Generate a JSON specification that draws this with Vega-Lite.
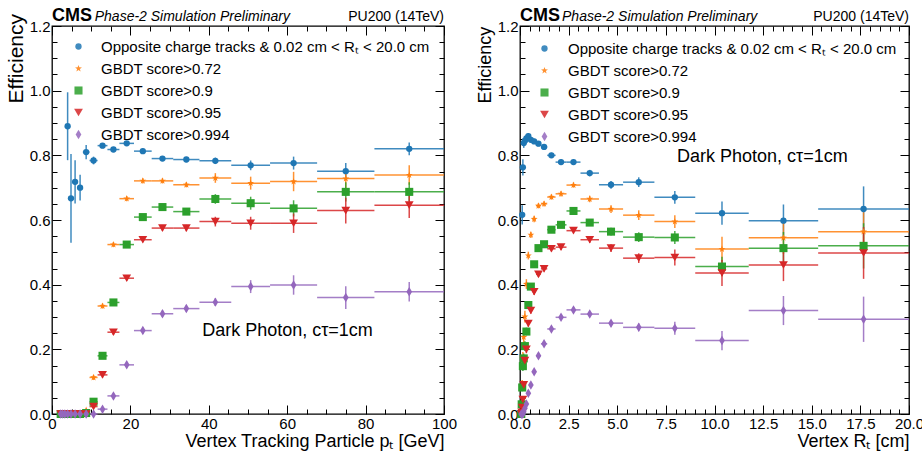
{
"$schema": "https://vega.github.io/schema/vega-lite/v6.json",
"background": "white",
"padding": {"left": 4, "top": 5, "right": 0, "bottom": 0},
"spacing": 17,
"datasets": {
"pt": [
{"s":"all","x":3.986,"xe":0.389,"y":0.89,"ye":0.105},
{"s":"all","x":4.846,"xe":0.472,"y":0.667,"ye":0.137},
{"s":"all","x":5.893,"xe":0.575,"y":0.718,"ye":0.067},
{"s":"all","x":7.167,"xe":0.699,"y":0.70,"ye":0.04},
{"s":"all","x":8.715,"xe":0.85,"y":0.81,"ye":0.022},
{"s":"all","x":10.6,"xe":1.03,"y":0.784,"ye":0.012},
{"s":"all","x":12.89,"xe":1.26,"y":0.83,"ye":0.008},
{"s":"all","x":15.67,"xe":1.53,"y":0.818,"ye":0.007},
{"s":"all","x":19.06,"xe":1.86,"y":0.837,"ye":0.007},
{"s":"all","x":23.17,"xe":2.26,"y":0.813,"ye":0.007},
{"s":"all","x":28.18,"xe":2.75,"y":0.79,"ye":0.007},
{"s":"all","x":34.27,"xe":3.34,"y":0.787,"ye":0.008},
{"s":"all","x":41.67,"xe":4.06,"y":0.783,"ye":0.01},
{"s":"all","x":50.68,"xe":4.95,"y":0.769,"ye":0.015},
{"s":"all","x":61.63,"xe":6.0,"y":0.776,"ye":0.02},
{"s":"all","x":74.94,"xe":7.31,"y":0.751,"ye":0.025},
{"s":"all","x":91.13,"xe":8.88,"y":0.82,"ye":0.02},
{"s":"0.72","x":2.216,"xe":0.216,"y":0,"ye":0},
{"s":"0.72","x":2.695,"xe":0.263,"y":0,"ye":0},
{"s":"0.72","x":3.278,"xe":0.32,"y":0,"ye":0},
{"s":"0.72","x":3.986,"xe":0.389,"y":0,"ye":0},
{"s":"0.72","x":4.846,"xe":0.472,"y":0,"ye":0},
{"s":"0.72","x":5.893,"xe":0.575,"y":0,"ye":0},
{"s":"0.72","x":7.167,"xe":0.699,"y":0,"ye":0},
{"s":"0.72","x":8.715,"xe":0.85,"y":0.012,"ye":0.005},
{"s":"0.72","x":10.6,"xe":1.03,"y":0.113,"ye":0.008},
{"s":"0.72","x":12.89,"xe":1.26,"y":0.334,"ye":0.008},
{"s":"0.72","x":15.67,"xe":1.53,"y":0.524,"ye":0.008},
{"s":"0.72","x":19.06,"xe":1.86,"y":0.666,"ye":0.008},
{"s":"0.72","x":23.17,"xe":2.26,"y":0.721,"ye":0.008},
{"s":"0.72","x":28.18,"xe":2.75,"y":0.721,"ye":0.008},
{"s":"0.72","x":34.27,"xe":3.34,"y":0.709,"ye":0.008},
{"s":"0.72","x":41.67,"xe":4.06,"y":0.73,"ye":0.015},
{"s":"0.72","x":50.68,"xe":4.95,"y":0.714,"ye":0.02},
{"s":"0.72","x":61.63,"xe":6.0,"y":0.719,"ye":0.03},
{"s":"0.72","x":74.94,"xe":7.31,"y":0.728,"ye":0.03},
{"s":"0.72","x":91.13,"xe":8.88,"y":0.739,"ye":0.03},
{"s":"0.9","x":2.216,"xe":0.216,"y":0,"ye":0},
{"s":"0.9","x":2.695,"xe":0.263,"y":0,"ye":0},
{"s":"0.9","x":3.278,"xe":0.32,"y":0,"ye":0},
{"s":"0.9","x":3.986,"xe":0.389,"y":0,"ye":0},
{"s":"0.9","x":4.846,"xe":0.472,"y":0,"ye":0},
{"s":"0.9","x":5.893,"xe":0.575,"y":0,"ye":0},
{"s":"0.9","x":7.167,"xe":0.699,"y":0,"ye":0},
{"s":"0.9","x":8.715,"xe":0.85,"y":0.003,"ye":0.003},
{"s":"0.9","x":10.6,"xe":1.03,"y":0.038,"ye":0.006},
{"s":"0.9","x":12.89,"xe":1.26,"y":0.18,"ye":0.008},
{"s":"0.9","x":15.67,"xe":1.53,"y":0.345,"ye":0.008},
{"s":"0.9","x":19.06,"xe":1.86,"y":0.524,"ye":0.008},
{"s":"0.9","x":23.17,"xe":2.26,"y":0.609,"ye":0.008},
{"s":"0.9","x":28.18,"xe":2.75,"y":0.64,"ye":0.008},
{"s":"0.9","x":34.27,"xe":3.34,"y":0.626,"ye":0.008},
{"s":"0.9","x":41.67,"xe":4.06,"y":0.665,"ye":0.015},
{"s":"0.9","x":50.68,"xe":4.95,"y":0.652,"ye":0.02},
{"s":"0.9","x":61.63,"xe":6.0,"y":0.636,"ye":0.025},
{"s":"0.9","x":74.94,"xe":7.31,"y":0.687,"ye":0.03},
{"s":"0.9","x":91.13,"xe":8.88,"y":0.687,"ye":0.03},
{"s":"0.95","x":2.216,"xe":0.216,"y":0,"ye":0},
{"s":"0.95","x":2.695,"xe":0.263,"y":0,"ye":0},
{"s":"0.95","x":3.278,"xe":0.32,"y":0,"ye":0},
{"s":"0.95","x":3.986,"xe":0.389,"y":0,"ye":0},
{"s":"0.95","x":4.846,"xe":0.472,"y":0,"ye":0},
{"s":"0.95","x":5.893,"xe":0.575,"y":0,"ye":0},
{"s":"0.95","x":7.167,"xe":0.699,"y":0,"ye":0},
{"s":"0.95","x":8.715,"xe":0.85,"y":0,"ye":0},
{"s":"0.95","x":10.6,"xe":1.03,"y":0.023,"ye":0.005},
{"s":"0.95","x":12.89,"xe":1.26,"y":0.121,"ye":0.008},
{"s":"0.95","x":15.67,"xe":1.53,"y":0.253,"ye":0.008},
{"s":"0.95","x":19.06,"xe":1.86,"y":0.42,"ye":0.008},
{"s":"0.95","x":23.17,"xe":2.26,"y":0.539,"ye":0.008},
{"s":"0.95","x":28.18,"xe":2.75,"y":0.575,"ye":0.008},
{"s":"0.95","x":34.27,"xe":3.34,"y":0.575,"ye":0.01},
{"s":"0.95","x":41.67,"xe":4.06,"y":0.595,"ye":0.015},
{"s":"0.95","x":50.68,"xe":4.95,"y":0.59,"ye":0.02},
{"s":"0.95","x":61.63,"xe":6.0,"y":0.59,"ye":0.03},
{"s":"0.95","x":74.94,"xe":7.31,"y":0.629,"ye":0.04},
{"s":"0.95","x":91.13,"xe":8.88,"y":0.646,"ye":0.04},
{"s":"0.994","x":2.216,"xe":0.216,"y":0,"ye":0},
{"s":"0.994","x":2.695,"xe":0.263,"y":0,"ye":0},
{"s":"0.994","x":3.278,"xe":0.32,"y":0,"ye":0},
{"s":"0.994","x":3.986,"xe":0.389,"y":0,"ye":0},
{"s":"0.994","x":4.846,"xe":0.472,"y":0,"ye":0},
{"s":"0.994","x":5.893,"xe":0.575,"y":0,"ye":0},
{"s":"0.994","x":7.167,"xe":0.699,"y":0,"ye":0},
{"s":"0.994","x":8.715,"xe":0.85,"y":0,"ye":0},
{"s":"0.994","x":10.6,"xe":1.03,"y":0,"ye":0},
{"s":"0.994","x":12.89,"xe":1.26,"y":0.015,"ye":0.005},
{"s":"0.994","x":15.67,"xe":1.53,"y":0.056,"ye":0.008},
{"s":"0.994","x":19.06,"xe":1.86,"y":0.152,"ye":0.008},
{"s":"0.994","x":23.17,"xe":2.26,"y":0.258,"ye":0.01},
{"s":"0.994","x":28.18,"xe":2.75,"y":0.31,"ye":0.01},
{"s":"0.994","x":34.27,"xe":3.34,"y":0.326,"ye":0.01},
{"s":"0.994","x":41.67,"xe":4.06,"y":0.346,"ye":0.012},
{"s":"0.994","x":50.68,"xe":4.95,"y":0.394,"ye":0.02},
{"s":"0.994","x":61.63,"xe":6.0,"y":0.399,"ye":0.03},
{"s":"0.994","x":74.94,"xe":7.31,"y":0.36,"ye":0.035},
{"s":"0.994","x":91.13,"xe":8.88,"y":0.378,"ye":0.03}
],
"rt": [
{"s":"all","x":0.1132,"xe":0.015,"y":0.616,"ye":0.03},
{"s":"all","x":0.1475,"xe":0.0195,"y":0.763,"ye":0.025},
{"s":"all","x":0.1925,"xe":0.0255,"y":0.838,"ye":0.015},
{"s":"all","x":0.2515,"xe":0.0335,"y":0.845,"ye":0.012},
{"s":"all","x":0.3285,"xe":0.0435,"y":0.852,"ye":0.01},
{"s":"all","x":0.4285,"xe":0.0565,"y":0.859,"ye":0.01},
{"s":"all","x":0.5585,"xe":0.0735,"y":0.848,"ye":0.008},
{"s":"all","x":0.728,"xe":0.096,"y":0.843,"ye":0.008},
{"s":"all","x":0.9495,"xe":0.1255,"y":0.836,"ye":0.008},
{"s":"all","x":1.2375,"xe":0.1625,"y":0.826,"ye":0.008},
{"s":"all","x":1.615,"xe":0.215,"y":0.8,"ye":0.008},
{"s":"all","x":2.11,"xe":0.28,"y":0.779,"ye":0.008},
{"s":"all","x":2.75,"xe":0.36,"y":0.779,"ye":0.008},
{"s":"all","x":3.585,"xe":0.475,"y":0.745,"ye":0.01},
{"s":"all","x":4.68,"xe":0.62,"y":0.709,"ye":0.012},
{"s":"all","x":6.105,"xe":0.805,"y":0.717,"ye":0.015},
{"s":"all","x":7.96,"xe":1.05,"y":0.67,"ye":0.02},
{"s":"all","x":10.385,"xe":1.375,"y":0.621,"ye":0.036},
{"s":"all","x":13.545,"xe":1.785,"y":0.598,"ye":0.05},
{"s":"all","x":17.665,"xe":2.335,"y":0.634,"ye":0.07},
{"s":"0.72","x":0.0667,"xe":0.009,"y":0,"ye":0},
{"s":"0.72","x":0.087,"xe":0.011,"y":0.033,"ye":0.01},
{"s":"0.72","x":0.1132,"xe":0.015,"y":0.09,"ye":0.015},
{"s":"0.72","x":0.1475,"xe":0.0195,"y":0.172,"ye":0.02},
{"s":"0.72","x":0.1925,"xe":0.0255,"y":0.238,"ye":0.02},
{"s":"0.72","x":0.2515,"xe":0.0335,"y":0.301,"ye":0.018},
{"s":"0.72","x":0.3285,"xe":0.0435,"y":0.402,"ye":0.015},
{"s":"0.72","x":0.4285,"xe":0.0565,"y":0.49,"ye":0.012},
{"s":"0.72","x":0.5585,"xe":0.0735,"y":0.554,"ye":0.01},
{"s":"0.72","x":0.728,"xe":0.096,"y":0.603,"ye":0.01},
{"s":"0.72","x":0.9495,"xe":0.1255,"y":0.644,"ye":0.008},
{"s":"0.72","x":1.2375,"xe":0.1625,"y":0.65,"ye":0.008},
{"s":"0.72","x":1.615,"xe":0.215,"y":0.671,"ye":0.008},
{"s":"0.72","x":2.11,"xe":0.28,"y":0.681,"ye":0.008},
{"s":"0.72","x":2.75,"xe":0.36,"y":0.708,"ye":0.008},
{"s":"0.72","x":3.585,"xe":0.475,"y":0.665,"ye":0.01},
{"s":"0.72","x":4.68,"xe":0.62,"y":0.634,"ye":0.012},
{"s":"0.72","x":6.105,"xe":0.805,"y":0.615,"ye":0.015},
{"s":"0.72","x":7.96,"xe":1.05,"y":0.595,"ye":0.02},
{"s":"0.72","x":10.385,"xe":1.375,"y":0.51,"ye":0.038},
{"s":"0.72","x":13.545,"xe":1.785,"y":0.545,"ye":0.05},
{"s":"0.72","x":17.665,"xe":2.335,"y":0.564,"ye":0.06},
{"s":"0.9","x":0.0667,"xe":0.009,"y":0,"ye":0},
{"s":"0.9","x":0.087,"xe":0.011,"y":0.03,"ye":0.01},
{"s":"0.9","x":0.1132,"xe":0.015,"y":0.082,"ye":0.012},
{"s":"0.9","x":0.1475,"xe":0.0195,"y":0.148,"ye":0.015},
{"s":"0.9","x":0.1925,"xe":0.0255,"y":0.172,"ye":0.015},
{"s":"0.9","x":0.2515,"xe":0.0335,"y":0.21,"ye":0.015},
{"s":"0.9","x":0.3285,"xe":0.0435,"y":0.255,"ye":0.012},
{"s":"0.9","x":0.4285,"xe":0.0565,"y":0.337,"ye":0.01},
{"s":"0.9","x":0.5585,"xe":0.0735,"y":0.394,"ye":0.01},
{"s":"0.9","x":0.728,"xe":0.096,"y":0.463,"ye":0.01},
{"s":"0.9","x":0.9495,"xe":0.1255,"y":0.513,"ye":0.008},
{"s":"0.9","x":1.2375,"xe":0.1625,"y":0.525,"ye":0.008},
{"s":"0.9","x":1.615,"xe":0.215,"y":0.57,"ye":0.008},
{"s":"0.9","x":2.11,"xe":0.28,"y":0.585,"ye":0.008},
{"s":"0.9","x":2.75,"xe":0.36,"y":0.628,"ye":0.008},
{"s":"0.9","x":3.585,"xe":0.475,"y":0.592,"ye":0.01},
{"s":"0.9","x":4.68,"xe":0.62,"y":0.564,"ye":0.012},
{"s":"0.9","x":6.105,"xe":0.805,"y":0.547,"ye":0.015},
{"s":"0.9","x":7.96,"xe":1.05,"y":0.546,"ye":0.02},
{"s":"0.9","x":10.385,"xe":1.375,"y":0.456,"ye":0.03},
{"s":"0.9","x":13.545,"xe":1.785,"y":0.513,"ye":0.05},
{"s":"0.9","x":17.665,"xe":2.335,"y":0.52,"ye":0.07},
{"s":"0.95","x":0.0667,"xe":0.009,"y":0,"ye":0},
{"s":"0.95","x":0.087,"xe":0.011,"y":0.005,"ye":0.005},
{"s":"0.95","x":0.1132,"xe":0.015,"y":0.02,"ye":0.008},
{"s":"0.95","x":0.1475,"xe":0.0195,"y":0.045,"ye":0.01},
{"s":"0.95","x":0.1925,"xe":0.0255,"y":0.09,"ye":0.012},
{"s":"0.95","x":0.2515,"xe":0.0335,"y":0.165,"ye":0.012},
{"s":"0.95","x":0.3285,"xe":0.0435,"y":0.2,"ye":0.012},
{"s":"0.95","x":0.4285,"xe":0.0565,"y":0.28,"ye":0.01},
{"s":"0.95","x":0.5585,"xe":0.0735,"y":0.32,"ye":0.01},
{"s":"0.95","x":0.728,"xe":0.096,"y":0.378,"ye":0.01},
{"s":"0.95","x":0.9495,"xe":0.1255,"y":0.432,"ye":0.008},
{"s":"0.95","x":1.2375,"xe":0.1625,"y":0.449,"ye":0.008},
{"s":"0.95","x":1.615,"xe":0.215,"y":0.511,"ye":0.008},
{"s":"0.95","x":2.11,"xe":0.28,"y":0.516,"ye":0.008},
{"s":"0.95","x":2.75,"xe":0.36,"y":0.567,"ye":0.008},
{"s":"0.95","x":3.585,"xe":0.475,"y":0.539,"ye":0.01},
{"s":"0.95","x":4.68,"xe":0.62,"y":0.513,"ye":0.012},
{"s":"0.95","x":6.105,"xe":0.805,"y":0.482,"ye":0.015},
{"s":"0.95","x":7.96,"xe":1.05,"y":0.484,"ye":0.025},
{"s":"0.95","x":10.385,"xe":1.375,"y":0.436,"ye":0.04},
{"s":"0.95","x":13.545,"xe":1.785,"y":0.461,"ye":0.05},
{"s":"0.95","x":17.665,"xe":2.335,"y":0.498,"ye":0.08},
{"s":"0.994","x":0.0667,"xe":0.009,"y":0,"ye":0},
{"s":"0.994","x":0.087,"xe":0.011,"y":0,"ye":0},
{"s":"0.994","x":0.1132,"xe":0.015,"y":0,"ye":0},
{"s":"0.994","x":0.1475,"xe":0.0195,"y":0,"ye":0},
{"s":"0.994","x":0.1925,"xe":0.0255,"y":0.007,"ye":0.004},
{"s":"0.994","x":0.2515,"xe":0.0335,"y":0.018,"ye":0.005},
{"s":"0.994","x":0.3285,"xe":0.0435,"y":0.031,"ye":0.006},
{"s":"0.994","x":0.4285,"xe":0.0565,"y":0.064,"ye":0.006},
{"s":"0.994","x":0.5585,"xe":0.0735,"y":0.09,"ye":0.007},
{"s":"0.994","x":0.728,"xe":0.096,"y":0.131,"ye":0.008},
{"s":"0.994","x":0.9495,"xe":0.1255,"y":0.18,"ye":0.008},
{"s":"0.994","x":1.2375,"xe":0.1625,"y":0.217,"ye":0.008},
{"s":"0.994","x":1.615,"xe":0.215,"y":0.263,"ye":0.008},
{"s":"0.994","x":2.11,"xe":0.28,"y":0.299,"ye":0.008},
{"s":"0.994","x":2.75,"xe":0.36,"y":0.322,"ye":0.008},
{"s":"0.994","x":3.585,"xe":0.475,"y":0.309,"ye":0.008},
{"s":"0.994","x":4.68,"xe":0.62,"y":0.281,"ye":0.01},
{"s":"0.994","x":6.105,"xe":0.805,"y":0.268,"ye":0.012},
{"s":"0.994","x":7.96,"xe":1.05,"y":0.265,"ye":0.02},
{"s":"0.994","x":10.385,"xe":1.375,"y":0.227,"ye":0.03},
{"s":"0.994","x":13.545,"xe":1.785,"y":0.32,"ye":0.045},
{"s":"0.994","x":17.665,"xe":2.335,"y":0.293,"ye":0.07}
]
},
"hconcat": [
{
"width": 392, "height": 388,
"data": {"name": "pt"},
"resolve": {"axis": {"x": "independent", "y": "independent"}},
"layer": [
{"mark": {"type": "errorbar", "ticks": false, "thickness": 1.5, "opacity": 0.85},
 "encoding": {"x": {"field": "x", "type": "quantitative", "axis": null}, "xError": {"field": "xe"}, "y": {"field": "y", "type": "quantitative", "axis": null},
  "color": {"field": "s", "type": "nominal", "scale": {"domain": ["all","0.72","0.9","0.95","0.994"], "range": ["#1f77b4","#ff7f0e","#2ca02c","#d62728","#9467bd"]},
   "legend": {"title": null, "orient": "top-left", "offset": 13, "padding": 0, "labelFontSize": 15, "labelLimit": 600, "symbolSize": 75, "symbolOffset": 6, "labelOffset": 15, "rowPadding": 6, "symbolStrokeWidth": 0, "labelExpr": "datum.value == 'all' ? 'Opposite charge tracks & 0.02 cm < Rₜ < 20.0 cm' : 'GBDT score>' + datum.value"}}}},
{"mark": {"type": "errorbar", "ticks": false, "thickness": 1.5, "opacity": 0.85},
 "encoding": {"x": {"field": "x", "type": "quantitative", "axis": null}, "y": {"field": "y", "type": "quantitative", "axis": null}, "yError": {"field": "ye"},
  "color": {"field": "s", "type": "nominal",
   "legend": {"title": null, "orient": "top-left", "offset": 13, "padding": 0, "labelFontSize": 15, "labelLimit": 600, "symbolSize": 75, "symbolOffset": 6, "labelOffset": 15, "rowPadding": 6, "symbolStrokeWidth": 0, "labelExpr": "datum.value == 'all' ? 'Opposite charge tracks & 0.02 cm < Rₜ < 20.0 cm' : 'GBDT score>' + datum.value"}}}},
{"mark": {"type": "point", "filled": true, "opacity": 1},
 "encoding": {
  "x": {"field": "x", "type": "quantitative", "scale": {"domain": [0, 100], "nice": false, "zero": false},
   "axis": {"orient": "bottom", "values": [0,20,40,60,80,100], "format": "d", "ticks": false, "domain": false, "labelPadding": 2, "title": "Vertex Tracking Particle pₜ [GeV]", "titleAnchor": "end", "titleFontSize": 18, "titlePadding": 1}},
  "y": {"field": "y", "type": "quantitative", "scale": {"domain": [0, 1.2], "nice": false, "zero": false},
   "axis": {"orient": "left", "values": [0,0.2,0.4,0.6,0.8,1.0,1.2], "format": ".1f", "ticks": false, "domain": false, "labelPadding": 2, "title": "Efficiency", "titleFontSize": 21, "titleAlign": "left", "titleY": 77, "titlePadding": 3}},
  "color": {"field": "s", "type": "nominal", "legend": {"title": null, "orient": "top-left", "offset": 13, "padding": 0, "labelFontSize": 15, "labelLimit": 600, "symbolSize": 75, "symbolOffset": 6, "labelOffset": 15, "rowPadding": 6, "symbolStrokeWidth": 0, "labelExpr": "datum.value == 'all' ? 'Opposite charge tracks & 0.02 cm < Rₜ < 20.0 cm' : 'GBDT score>' + datum.value"}},
  "shape": {"field": "s", "type": "nominal", "scale": {"domain": ["all","0.72","0.9","0.95","0.994"], "range": ["circle", "M0,-1L0.235,-0.324L0.951,-0.309L0.38,0.124L0.588,0.809L0,0.4L-0.588,0.809L-0.38,0.124L-0.951,-0.309L-0.235,-0.324Z", "square", "triangle-down", "M0,-1L0.6,0L0,1L-0.6,0Z"]},
   "legend": {"title": null, "orient": "top-left", "offset": 13, "padding": 0, "labelFontSize": 15, "labelLimit": 600, "symbolSize": 75, "symbolOffset": 6, "labelOffset": 15, "rowPadding": 6, "symbolStrokeWidth": 0, "labelExpr": "datum.value == 'all' ? 'Opposite charge tracks & 0.02 cm < Rₜ < 20.0 cm' : 'GBDT score>' + datum.value"}},
  "size": {"field": "s", "type": "ordinal", "scale": {"domain": ["all","0.72","0.9","0.95","0.994"], "range": [40, 90, 56, 60, 100]}, "legend": null}
 }},
{"mark": {"type": "point", "opacity": 0},
 "encoding": {"x": {"field": "x", "type": "quantitative", "axis": {"orient": "bottom", "values": [0,20,40,60,80,100], "labels": false, "domain": false, "ticks": true, "tickSize": -9, "title": null}},
  "y": {"field": "y", "type": "quantitative", "axis": {"orient": "left", "values": [0,0.2,0.4,0.6,0.8,1.0,1.2], "labels": false, "domain": false, "ticks": true, "tickSize": -9, "title": null}}}},
{"mark": {"type": "point", "opacity": 0},
 "encoding": {"x": {"field": "x", "type": "quantitative", "axis": {"orient": "bottom", "values": [5,10,15,25,30,35,45,50,55,65,70,75,85,90,95], "labels": false, "domain": false, "ticks": true, "tickSize": -5, "title": null}},
  "y": {"field": "y", "type": "quantitative", "axis": {"orient": "left", "values": [0.05,0.1,0.15,0.25,0.3,0.35,0.45,0.5,0.55,0.65,0.7,0.75,0.85,0.9,0.95,1.05,1.1,1.15], "labels": false, "domain": false, "ticks": true, "tickSize": -5, "title": null}}}},
{"mark": {"type": "point", "opacity": 0},
 "encoding": {"x": {"field": "x", "type": "quantitative", "axis": {"orient": "top", "values": [0,20,40,60,80,100], "labels": false, "domain": false, "ticks": true, "tickSize": -9, "title": null}},
  "y": {"field": "y", "type": "quantitative", "axis": {"orient": "right", "values": [0,0.2,0.4,0.6,0.8,1.0,1.2], "labels": false, "domain": false, "ticks": true, "tickSize": -9, "title": null}}}},
{"mark": {"type": "point", "opacity": 0},
 "encoding": {"x": {"field": "x", "type": "quantitative", "axis": {"orient": "top", "values": [5,10,15,25,30,35,45,50,55,65,70,75,85,90,95], "labels": false, "domain": false, "ticks": true, "tickSize": -5, "title": null}},
  "y": {"field": "y", "type": "quantitative", "axis": {"orient": "right", "values": [0.05,0.1,0.15,0.25,0.3,0.35,0.45,0.5,0.55,0.65,0.7,0.75,0.85,0.9,0.95,1.05,1.1,1.15], "labels": false, "domain": false, "ticks": true, "tickSize": -5, "title": null}}}},
{"data": {"values": [{}]},
 "mark": {"type": "text", "fontSize": 18, "align": "left", "baseline": "middle", "font": "Liberation Sans", "color": "black"},
 "encoding": {"x": {"datum": 38.3, "type": "quantitative", "axis": null, "scale": {"domain": [0, 100], "nice": false, "zero": false}}, "y": {"datum": 0.257, "type": "quantitative", "axis": null, "scale": {"domain": [0, 1.2], "nice": false, "zero": false}}, "text": {"value": "Dark Photon, cτ=1cm"}}},
{"data": {"values": [{}]},
 "mark": {"type": "text", "fontSize": 18, "fontWeight": "bold", "align": "left", "baseline": "alphabetic", "font": "Liberation Sans", "color": "black"},
 "encoding": {"x": {"datum": 0, "type": "quantitative", "axis": null, "scale": {"domain": [0, 100], "nice": false, "zero": false}}, "y": {"datum": 1.2167, "type": "quantitative", "axis": null, "scale": {"domain": [0, 1.2], "nice": false, "zero": false}}, "text": {"value": "CMS"}}},
{"data": {"values": [{}]},
 "mark": {"type": "text", "fontSize": 14, "fontStyle": "italic", "align": "left", "baseline": "alphabetic", "font": "Liberation Sans", "color": "black"},
 "encoding": {"x": {"datum": 10.9, "type": "quantitative", "axis": null, "scale": {"domain": [0, 100], "nice": false, "zero": false}}, "y": {"datum": 1.2167, "type": "quantitative", "axis": null, "scale": {"domain": [0, 1.2], "nice": false, "zero": false}}, "text": {"value": "Phase-2 Simulation Preliminary"}}},
{"data": {"values": [{}]},
 "mark": {"type": "text", "fontSize": 14, "align": "right", "baseline": "alphabetic", "font": "Liberation Sans", "color": "black"},
 "encoding": {"x": {"datum": 100, "type": "quantitative", "axis": null, "scale": {"domain": [0, 100], "nice": false, "zero": false}}, "y": {"datum": 1.2167, "type": "quantitative", "axis": null, "scale": {"domain": [0, 1.2], "nice": false, "zero": false}}, "text": {"value": "PU200 (14TeV)"}}}
]
},
{
"width": 389, "height": 388,
"data": {"name": "rt"},
"resolve": {"axis": {"x": "independent", "y": "independent"}},
"layer": [
{"mark": {"type": "errorbar", "ticks": false, "thickness": 1.5, "opacity": 0.85},
 "encoding": {"x": {"field": "x", "type": "quantitative", "axis": null}, "xError": {"field": "xe"}, "y": {"field": "y", "type": "quantitative", "axis": null},
  "color": {"field": "s", "type": "nominal", "scale": {"domain": ["all","0.72","0.9","0.95","0.994"], "range": ["#1f77b4","#ff7f0e","#2ca02c","#d62728","#9467bd"]},
   "legend": {"title": null, "orient": "top-left", "offset": 15, "padding": 0, "labelFontSize": 15, "labelLimit": 600, "symbolSize": 75, "symbolOffset": 2, "labelOffset": 16, "rowPadding": 6, "symbolStrokeWidth": 0, "labelExpr": "datum.value == 'all' ? 'Opposite charge tracks & 0.02 cm < Rₜ < 20.0 cm' : 'GBDT score>' + datum.value"}}}},
{"mark": {"type": "errorbar", "ticks": false, "thickness": 1.5, "opacity": 0.85},
 "encoding": {"x": {"field": "x", "type": "quantitative", "axis": null}, "y": {"field": "y", "type": "quantitative", "axis": null}, "yError": {"field": "ye"},
  "color": {"field": "s", "type": "nominal",
   "legend": {"title": null, "orient": "top-left", "offset": 15, "padding": 0, "labelFontSize": 15, "labelLimit": 600, "symbolSize": 75, "symbolOffset": 2, "labelOffset": 16, "rowPadding": 6, "symbolStrokeWidth": 0, "labelExpr": "datum.value == 'all' ? 'Opposite charge tracks & 0.02 cm < Rₜ < 20.0 cm' : 'GBDT score>' + datum.value"}}}},
{"mark": {"type": "point", "filled": true, "opacity": 1},
 "encoding": {
  "x": {"field": "x", "type": "quantitative", "scale": {"domain": [0, 20], "nice": false, "zero": false},
   "axis": {"orient": "bottom", "values": [0,2.5,5,7.5,10,12.5,15,17.5,20], "format": ".1f", "ticks": false, "domain": false, "labelPadding": 2, "title": "Vertex Rₜ [cm]", "titleAnchor": "end", "titleFontSize": 18, "titlePadding": 1}},
  "y": {"field": "y", "type": "quantitative", "scale": {"domain": [0, 1.2], "nice": false, "zero": false},
   "axis": {"orient": "left", "values": [0,0.2,0.4,0.6,0.8,1.0,1.2], "format": ".1f", "ticks": false, "domain": false, "labelPadding": 2, "title": "Efficiency", "titleFontSize": 18, "titleAlign": "left", "titleY": 77, "titlePadding": 3}},
  "color": {"field": "s", "type": "nominal", "legend": {"title": null, "orient": "top-left", "offset": 15, "padding": 0, "labelFontSize": 15, "labelLimit": 600, "symbolSize": 75, "symbolOffset": 2, "labelOffset": 16, "rowPadding": 6, "symbolStrokeWidth": 0, "labelExpr": "datum.value == 'all' ? 'Opposite charge tracks & 0.02 cm < Rₜ < 20.0 cm' : 'GBDT score>' + datum.value"}},
  "shape": {"field": "s", "type": "nominal", "scale": {"domain": ["all","0.72","0.9","0.95","0.994"], "range": ["circle", "M0,-1L0.235,-0.324L0.951,-0.309L0.38,0.124L0.588,0.809L0,0.4L-0.588,0.809L-0.38,0.124L-0.951,-0.309L-0.235,-0.324Z", "square", "triangle-down", "M0,-1L0.6,0L0,1L-0.6,0Z"]},
   "legend": {"title": null, "orient": "top-left", "offset": 15, "padding": 0, "labelFontSize": 15, "labelLimit": 600, "symbolSize": 75, "symbolOffset": 2, "labelOffset": 16, "rowPadding": 6, "symbolStrokeWidth": 0, "labelExpr": "datum.value == 'all' ? 'Opposite charge tracks & 0.02 cm < Rₜ < 20.0 cm' : 'GBDT score>' + datum.value"}},
  "size": {"field": "s", "type": "ordinal", "scale": {"domain": ["all","0.72","0.9","0.95","0.994"], "range": [40, 90, 56, 60, 100]}, "legend": null}
 }},
{"mark": {"type": "point", "opacity": 0},
 "encoding": {"x": {"field": "x", "type": "quantitative", "axis": {"orient": "bottom", "values": [0,2.5,5,7.5,10,12.5,15,17.5,20], "labels": false, "domain": false, "ticks": true, "tickSize": -9, "title": null}},
  "y": {"field": "y", "type": "quantitative", "axis": {"orient": "left", "values": [0,0.2,0.4,0.6,0.8,1.0,1.2], "labels": false, "domain": false, "ticks": true, "tickSize": -9, "title": null}}}},
{"mark": {"type": "point", "opacity": 0},
 "encoding": {"x": {"field": "x", "type": "quantitative", "axis": {"orient": "bottom", "values": [0.5,1,1.5,2,3,3.5,4,4.5,5.5,6,6.5,7,8,8.5,9,9.5,10.5,11,11.5,12,13,13.5,14,14.5,15.5,16,16.5,17,18,18.5,19,19.5], "labels": false, "domain": false, "ticks": true, "tickSize": -5, "title": null}},
  "y": {"field": "y", "type": "quantitative", "axis": {"orient": "left", "values": [0.05,0.1,0.15,0.25,0.3,0.35,0.45,0.5,0.55,0.65,0.7,0.75,0.85,0.9,0.95,1.05,1.1,1.15], "labels": false, "domain": false, "ticks": true, "tickSize": -5, "title": null}}}},
{"mark": {"type": "point", "opacity": 0},
 "encoding": {"x": {"field": "x", "type": "quantitative", "axis": {"orient": "top", "values": [0,2.5,5,7.5,10,12.5,15,17.5,20], "labels": false, "domain": false, "ticks": true, "tickSize": -9, "title": null}},
  "y": {"field": "y", "type": "quantitative", "axis": {"orient": "right", "values": [0,0.2,0.4,0.6,0.8,1.0,1.2], "labels": false, "domain": false, "ticks": true, "tickSize": -9, "title": null}}}},
{"mark": {"type": "point", "opacity": 0},
 "encoding": {"x": {"field": "x", "type": "quantitative", "axis": {"orient": "top", "values": [0.5,1,1.5,2,3,3.5,4,4.5,5.5,6,6.5,7,8,8.5,9,9.5,10.5,11,11.5,12,13,13.5,14,14.5,15.5,16,16.5,17,18,18.5,19,19.5], "labels": false, "domain": false, "ticks": true, "tickSize": -5, "title": null}},
  "y": {"field": "y", "type": "quantitative", "axis": {"orient": "right", "values": [0.05,0.1,0.15,0.25,0.3,0.35,0.45,0.5,0.55,0.65,0.7,0.75,0.85,0.9,0.95,1.05,1.1,1.15], "labels": false, "domain": false, "ticks": true, "tickSize": -5, "title": null}}}},
{"data": {"values": [{}]},
 "mark": {"type": "text", "fontSize": 18, "align": "left", "baseline": "middle", "font": "Liberation Sans", "color": "black"},
 "encoding": {"x": {"datum": 8.07, "type": "quantitative", "axis": null, "scale": {"domain": [0, 20], "nice": false, "zero": false}}, "y": {"datum": 0.795, "type": "quantitative", "axis": null, "scale": {"domain": [0, 1.2], "nice": false, "zero": false}}, "text": {"value": "Dark Photon, cτ=1cm"}}},
{"data": {"values": [{}]},
 "mark": {"type": "text", "fontSize": 18, "fontWeight": "bold", "align": "left", "baseline": "alphabetic", "font": "Liberation Sans", "color": "black"},
 "encoding": {"x": {"datum": 0, "type": "quantitative", "axis": null, "scale": {"domain": [0, 20], "nice": false, "zero": false}}, "y": {"datum": 1.2167, "type": "quantitative", "axis": null, "scale": {"domain": [0, 1.2], "nice": false, "zero": false}}, "text": {"value": "CMS"}}},
{"data": {"values": [{}]},
 "mark": {"type": "text", "fontSize": 14, "fontStyle": "italic", "align": "left", "baseline": "alphabetic", "font": "Liberation Sans", "color": "black"},
 "encoding": {"x": {"datum": 2.16, "type": "quantitative", "axis": null, "scale": {"domain": [0, 20], "nice": false, "zero": false}}, "y": {"datum": 1.2167, "type": "quantitative", "axis": null, "scale": {"domain": [0, 1.2], "nice": false, "zero": false}}, "text": {"value": "Phase-2 Simulation Preliminary"}}},
{"data": {"values": [{}]},
 "mark": {"type": "text", "fontSize": 14, "align": "right", "baseline": "alphabetic", "font": "Liberation Sans", "color": "black"},
 "encoding": {"x": {"datum": 20, "type": "quantitative", "axis": null, "scale": {"domain": [0, 20], "nice": false, "zero": false}}, "y": {"datum": 1.2167, "type": "quantitative", "axis": null, "scale": {"domain": [0, 1.2], "nice": false, "zero": false}}, "text": {"value": "PU200 (14TeV)"}}}
]
}
],
"resolve": {"scale": {"x": "independent", "y": "independent", "color": "independent", "shape": "independent", "size": "independent"}, "legend": {"color": "independent", "shape": "independent", "size": "independent"}},
"config": {
"font": "Liberation Sans",
"view": {"stroke": "black", "strokeWidth": 1.3},
"axis": {"labelFont": "Liberation Sans", "titleFont": "Liberation Sans", "labelColor": "black", "titleColor": "black", "tickColor": "black", "domainColor": "black", "labelFontSize": 15, "titleFontWeight": "normal", "grid": false, "labelFlush": false, "labelOverlap": false, "tickWidth": 1},
"legend": {"labelFont": "Liberation Sans", "labelColor": "black"}
}
}
